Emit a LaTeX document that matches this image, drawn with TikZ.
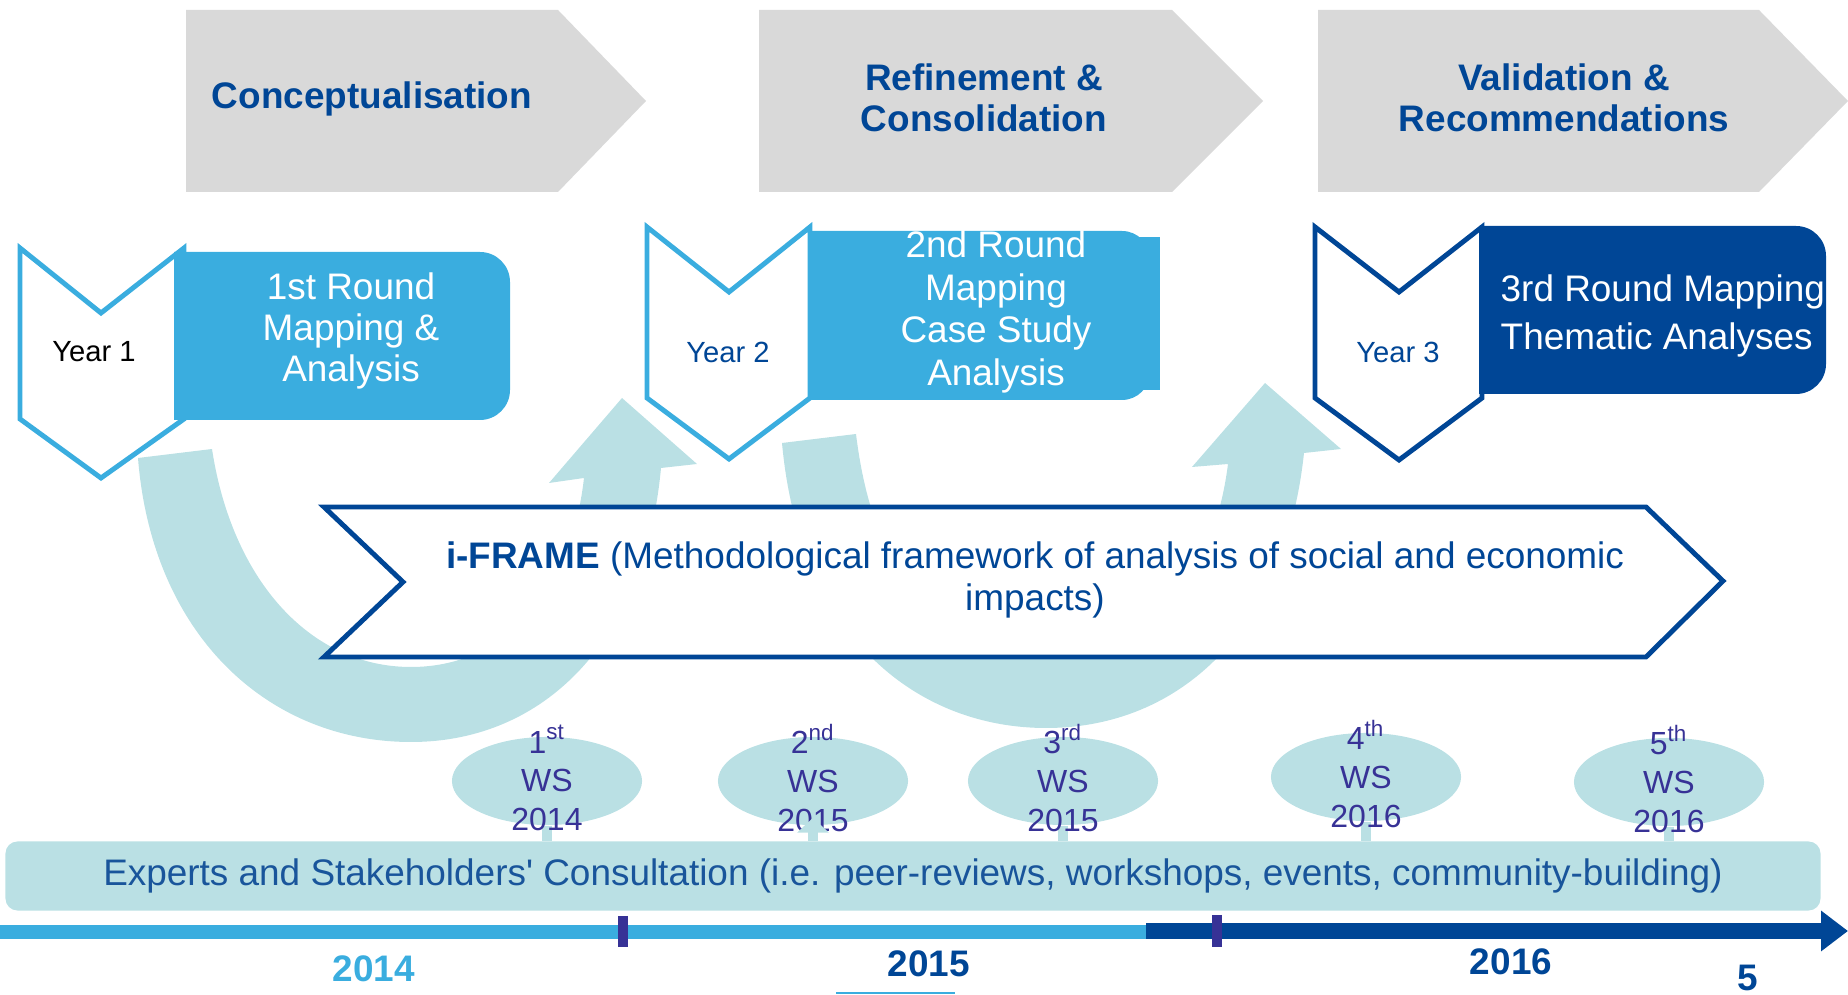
\documentclass[tikz,border=0pt]{standalone}
\usepackage{fontspec}
\setmainfont{Liberation Sans}
\usetikzlibrary{shapes.geometric,arrows.meta}
\definecolor{dblue}{RGB}{0,70,150}
\definecolor{lblue}{RGB}{58,173,223}
\definecolor{pale}{RGB}{186,224,228}
\definecolor{phasegrey}{RGB}{217,217,217}
\definecolor{indigo}{RGB}{55,50,150}
\definecolor{ctext}{RGB}{25,85,155}

\begin{document}
\begin{tikzpicture}[x=0.01cm,y=-0.01cm,
  phase/.style={font=\fontsize{10.5}{11.7}\selectfont\bfseries,text=dblue,align=center},
  roundtxt/.style={font=\fontsize{10.5}{11.6}\selectfont,text=white,align=center},
  yearlbl/.style={font=\fontsize{8.3}{10}\selectfont},
  yearbox/.style={line width=1.4pt,fill=white},
  wsbub/.style={ellipse,fill=pale,minimum width=1.9cm,minimum height=0.88cm,inner sep=0pt},
  wstxt/.style={font=\fontsize{9.1}{11}\selectfont,text=indigo,align=center},
  wsstem/.style={pale,line width=2.6pt},
  yrlabel/.style={font=\fontsize{10.5}{12}\selectfont\bfseries,text=dblue}]
\useasboundingbox (0,0) rectangle (1848,995);

% phases
\fill[phasegrey] (186,10) -- (558,10) -- (646,101) -- (558,192) -- (186,192) -- cycle;
\fill[phasegrey] (759,10) -- (1172,10) -- (1263,101) -- (1172,192) -- (759,192) -- cycle;
\fill[phasegrey] (1318,10) -- (1759,10) -- (1848,101) -- (1759,192) -- (1318,192) -- cycle;
\node[phase] (concept) at (372,99) {Conceptualisation};
\node[phase] (refine) at (984,98) {Refinement \&\\Consolidation};
\node[phase] (valid) at (1564,98) {Validation \&\\Recommendations};

% loops
\fill[pale] (138,458) .. controls (152,635) and (268,742) .. (411,742)
  .. controls (545,742) and (645,640) .. (661,468) -- (697,464) -- (622,398)
  -- (549,483) -- (584,478) .. controls (570,600) and (500,667) .. (411,667)
  .. controls (310,667) and (232,580) .. (212,449) -- cycle;
\fill[pale] (782,443) .. controls (800,640) and (920,728) .. (1046,728)
  .. controls (1180,728) and (1285,630) .. (1304,453) -- (1341,449) -- (1265,383)
  -- (1192,467) -- (1228,464) .. controls (1212,590) and (1140,655) .. (1046,655)
  .. controls (950,655) and (875,590) .. (856,434) -- cycle;

% years
\draw[yearbox,draw=lblue] (20,248) -- (101,313) -- (184,248) -- (184,419) -- (101,478) -- (20,419) -- cycle;
\draw[yearbox,draw=lblue] (647,227) -- (729,292) -- (810,227) -- (810,398) -- (729,459) -- (647,398) -- cycle;
\draw[yearbox,draw=dblue] (1315,227) -- (1399,292) -- (1482,227) -- (1482,398) -- (1399,460) -- (1315,398) -- cycle;
\fill[lblue] (174,252) [rounded corners=0.3cm] -- (510,252) -- (510,420) [sharp corners] -- (174,420) -- cycle;
\fill[lblue] (808,231) [rounded corners=0.28cm] -- (1150,231) -- (1150,400) [sharp corners] -- (808,400) -- cycle;
\fill[lblue] (1130,237) rectangle (1160,390);
\fill[dblue] (1479,226) [rounded corners=0.3cm] -- (1826,226) -- (1826,394) [sharp corners] -- (1479,394) -- cycle;
\node[yearlbl] (yr1) at (94,352) {Year 1};
\node[yearlbl,text=dblue] (yr2) at (728,352) {Year 2};
\node[yearlbl,text=dblue] (yr3) at (1398,352) {Year 3};
\node[roundtxt] (rnd1) at (351,331) {1st Round\\Mapping \&\\Analysis};
\node[roundtxt,font=\fontsize{10.5}{12.2}\selectfont] (rnd2) at (996,312) {2nd Round\\Mapping\\Case Study\\Analysis};
\node[roundtxt,align=left,anchor=west,inner sep=0pt,font=\fontsize{10.5}{13.4}\selectfont] (rnd3) at (1500,316) {3rd Round Mapping\\Thematic Analyses};

% i-FRAME
\draw[dblue,line width=1.4pt,fill=white] (324,507) -- (1646,507) -- (1723,581) -- (1646,657) -- (324,657) -- (403,582) -- cycle;
\node[font=\fontsize{10.5}{11.7}\selectfont,text=dblue,align=center] (iframe) at (1035,580)
  {\textbf{i-FRAME} (Methodological framework of analysis of social and economic\\impacts)};

% consultation
\node[wsbub] (ws1) at (547,781) {};
\node[wsbub] (ws2) at (813,781) {};
\node[wsbub] (ws3) at (1063,781) {};
\node[wsbub] (ws4) at (1366,777) {};
\node[wsbub] (ws5) at (1669,782) {};
\node[fill=pale,rounded corners=0.12cm,minimum width=18.14cm,minimum height=0.69cm,inner sep=0pt,
  font=\fontsize{10.5}{12}\selectfont,text=ctext] (bar) at (913,876)
  {Experts and Stakeholders\textquotesingle{} Consultation (i.e. peer-reviews, workshops, events, community-building)};
\draw[wsstem] (ws1.south) -- (ws1.south |- bar.north);
\draw[wsstem] (ws3.south) -- (ws3.south |- bar.north);
\draw[wsstem] (ws4.south) -- (ws4.south |- bar.north);
\draw[wsstem] (ws5.south) -- (ws5.south |- bar.north);
\node[wstxt] at ([yshift=0.03cm]ws1) {1\textsuperscript{st}\\WS\\2014};
\node[wstxt] at ([yshift=0.03cm]ws2) {2\textsuperscript{nd}\\WS\\2015};
\node[wstxt] at ([yshift=0.03cm]ws3) {3\textsuperscript{rd}\\WS\\2015};
\node[wstxt] at ([yshift=0.03cm]ws4) {4\textsuperscript{th}\\WS\\2016};
\node[wstxt] at ([yshift=0.03cm]ws5) {5\textsuperscript{th}\\WS\\2016};
\draw[wsstem,-{Triangle[length=0.15cm,width=0.31cm]},shorten >=-0.08cm] (bar.north -| ws2.south) -- (ws2.south);

% timeline
\draw[lblue,line width=3.7pt] (0,932) -- (1146,932);
\draw[dblue,line width=4.3pt,-{Triangle[length=0.27cm,width=0.39cm]}] (1146,931) -- (1848,931);
\draw[indigo,line width=2.8pt] (623,916) -- (623,947);
\draw[indigo,line width=2.8pt] (1217,915) -- (1217,947);
\node[yrlabel,text=lblue] (y2014) at (374,969) {2014};
\node[yrlabel] (y2015) at (929,964) {2015};
\node[yrlabel] (y2016) at (1511,962) {2016};
\node[yrlabel,inner sep=1pt] (y5) at (1748,978) {5};
\draw[lblue,line width=0.5pt] (836,993) -- (955,993);
\end{tikzpicture}
\end{document}
